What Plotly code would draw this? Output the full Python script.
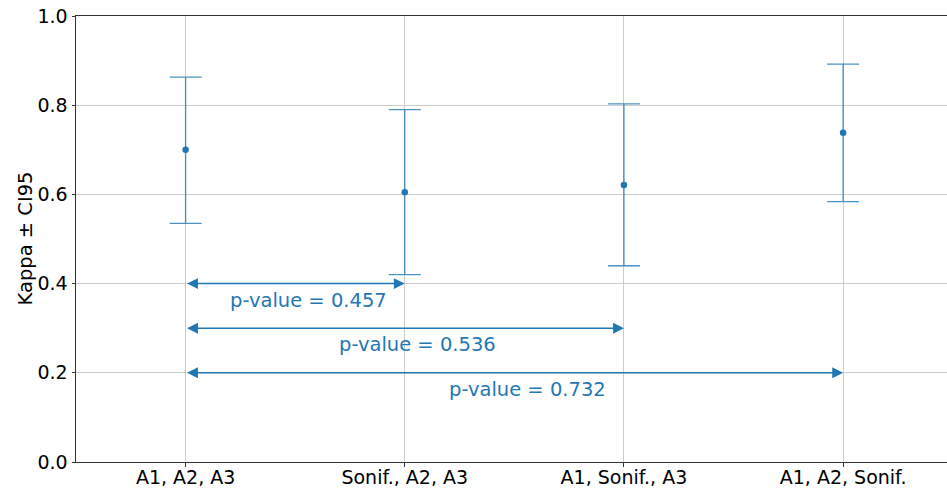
import plotly.graph_objects as go

categories = ["A1, A2, A3", "Sonif., A2, A3", "A1, Sonif., A3", "A1, A2, Sonif."]
kappa = [0.700, 0.605, 0.621, 0.738]
ci_upper = [0.863, 0.790, 0.803, 0.892]
ci_lower = [0.535, 0.420, 0.440, 0.584]

# comparisons: (index a, index b, y level, p-value)
comp_a = [0, 0, 0]
comp_b = [1, 2, 3]
comp_y = [0.4, 0.3, 0.2]
comp_p = [0.457, 0.536, 0.732]

BLUE = "#1f77b4"
xs = list(range(len(categories)))

fig = go.Figure()
fig.add_trace(go.Scatter(
    x=xs, y=kappa, mode="markers",
    marker=dict(color=BLUE, size=6.5),
    error_y=dict(
        type="data", symmetric=False,
        array=[u - k for u, k in zip(ci_upper, kappa)],
        arrayminus=[k - l for k, l in zip(kappa, ci_lower)],
        color="rgba(31,119,180,0.8)", thickness=1.3, width=16,
    ),
    showlegend=False,
))

annotations = []
for a, b, yv, p in zip(comp_a, comp_b, comp_y, comp_p):
    annotations.append(dict(
        x=b, y=yv, ax=a, ay=yv, xref="x", yref="y", axref="x", ayref="y",
        showarrow=True, arrowhead=2, startarrowhead=2, arrowside="end+start",
        arrowsize=1.45, startarrowsize=1.45, arrowwidth=1.5, arrowcolor=BLUE, text="",
    ))
    annotations.append(dict(
        x=(a + b) / 2 + 0.06, y=yv - 0.037, xref="x", yref="y",
        text=f"p-value = {p}", showarrow=False,
        font=dict(color=BLUE, size=19.5, family="DejaVu Sans"),
        xanchor="center", yanchor="middle",
    ))

# y-axis title placed in pixels left of the plot area
annotations.append(dict(
    text="Kappa ± CI95", textangle=-90, showarrow=False,
    xref="paper", yref="paper", x=-51.5 / 871, y=0.5,
    xanchor="center", yanchor="middle",
    font=dict(size=19.5, family="DejaVu Sans", color="black"),
))

fig.update_layout(
    width=947, height=489,
    margin=dict(l=76, r=0, t=16, b=27),
    plot_bgcolor="white", paper_bgcolor="white",
    font=dict(family="DejaVu Sans", size=19, color="black"),
    annotations=annotations,
    xaxis=dict(
        range=[-0.5, 3.474], tickvals=xs, ticktext=categories,
        showgrid=True, gridcolor="#cccccc", gridwidth=1,
        showline=True, linecolor="#333333", linewidth=1, mirror=True,
        ticks="outside", ticklen=3.5, tickcolor="#333333", zeroline=False,
        ticklabelstandoff=-5,
        automargin=False,
    ),
    yaxis=dict(
        range=[0, 1], tickvals=[0, 0.2, 0.4, 0.6, 0.8, 1.0],
        ticktext=["0.0", "0.2", "0.4", "0.6", "0.8", "1.0"],
        showgrid=True, gridcolor="#cccccc", gridwidth=1,
        showline=True, linecolor="#333333", linewidth=1, mirror=False,
        ticks="outside", ticklen=3.5, tickcolor="#333333", zeroline=False,
        automargin=False,
    ),
)

fig.write_html(
    "out.html",
    config={"displayModeBar": False},
    post_script="document.body.style.margin='0';document.body.style.overflow='hidden';",
)
